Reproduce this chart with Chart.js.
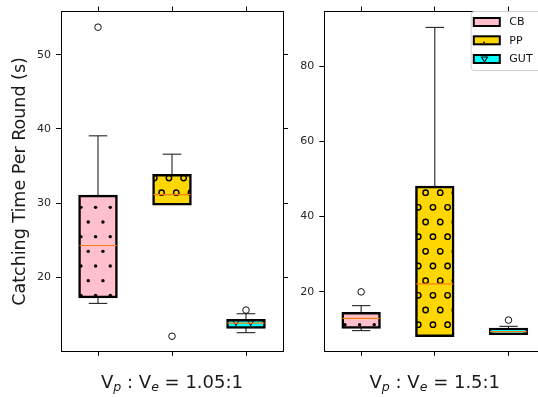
<!DOCTYPE html>
<html><head><meta charset="utf-8">
<script src="https://cdn.jsdelivr.net/npm/chart.js@4.4.1/dist/chart.umd.min.js"></script>
<style>
html,body{margin:0;padding:0;background:#fff;width:538px;height:397px;overflow:hidden;position:relative}
#c1{position:absolute;left:0;top:0}
#c2{position:absolute;left:290px;top:0}
</style></head><body>
<canvas id="c1" width="300" height="397"></canvas>
<canvas id="c2" width="280" height="397"></canvas>
<script>
// ---- data ----
const categories = ['CB', 'PP', 'GUT'];
const yTitle = 'Catching Time Per Round (s)';
// panel 1: Vp : Ve = 1.05:1
const ratio_105 = '1.05:1';
const q1_105 = [17.35, 29.85, 13.26];
const q3_105 = [30.97, 33.76, 14.24];
const median_105 = [24.3, 31.15, 13.84];
const whiskerLow_105 = [16.5, 29.85, 12.56];
const whiskerHigh_105 = [39.07, 36.6, 15.11];
const outliers_105 = [53.7, 12.08, 15.6];
const yTicks_105 = [20, 30, 40, 50];
// panel 2: Vp : Ve = 1.5:1
const ratio_15 = '1.5:1';
const q1_15 = [10.5, 8.32, 8.85];
const q3_15 = [14.3, 47.85, 10.16];
const median_15 = [12.93, 22.1, 9.45];
const whiskerLow_15 = [9.7, 8.32, 8.85];
const whiskerHigh_15 = [16.34, 90.3, 10.84];
const outliers_15 = [20.0, null, 12.5];
const yTicks_15 = [20, 40, 60, 80];

Chart.defaults.font.family = "'DejaVu Sans', sans-serif";
const FONT = "'DejaVu Sans', sans-serif";
const fills = ['#FFC0CB', '#FFD700', '#00FFFF'];

function dot(g, x, y) { g.beginPath(); g.arc(x, y, 1.7, 0, 2 * Math.PI); g.fillStyle = '#000'; g.fill(); }
function ring(g, x, y) { g.beginPath(); g.arc(x, y, 2.7, 0, 2 * Math.PI); g.strokeStyle = '#000'; g.lineWidth = 1.4; g.stroke(); }
function vee(g, x, y) { g.beginPath(); g.moveTo(x - 3, y - 2.5); g.lineTo(x + 3, y - 2.5); g.lineTo(x, y + 2.5); g.closePath(); g.strokeStyle = '#000'; g.lineWidth = 1.1; g.stroke(); }

function tile(bg, mark, ax, ay) {
  const P = 44 / 3, Q = 88 / 3, W = 44, H = 88;
  const c = document.createElement('canvas'); c.width = W; c.height = H;
  const g = c.getContext('2d'); g.fillStyle = bg; g.fillRect(0, 0, W, H);
  for (let k = -1; k <= 3; k++) for (let m = -1; m <= 3; m++) {
    mark(g, ax + k * P, ay + m * Q);
    mark(g, ax - P / 2 + k * P, ay + Q / 2 + m * Q);
  }
  return c;
}

function buildChart(id, pageLeft, st, yMin, yMax, yTicks, leftW, rightW, ratio, withYTitle, withLegend) {
  const canvas = document.getElementById(id);
  const ctx = canvas.getContext('2d');
  const marks = [[dot, 7.6, 2.0], [ring, 7.6, 2.0], [vee, 1.27, 0.33]];
  const pats = marks.map(([m, ax, ay], i) => {
    const p = ctx.createPattern(tile(fills[i], m, ax, ay), 'repeat');
    p.setTransform(new DOMMatrix([1, 0, 0, 1, -pageLeft, 0]));
    return p;
  });

  const datasets = categories.map((name, i) => ({
    type: 'bar', label: name,
    data: categories.map((_, j) => j === i ? [st.q1[i], st.q3[i]] : null),
    backgroundColor: pats[i], borderColor: '#000', borderWidth: 2.5, borderSkipped: false,
    grouped: false, barPercentage: 0.5, categoryPercentage: 1, inflateAmount: 1.25
  }));
  datasets.push({
    type: 'line', label: 'outliers', data: st.out, showLine: false,
    pointRadius: 3.3, pointBorderWidth: 1, pointBorderColor: '#111',
    pointBackgroundColor: 'rgba(0,0,0,0)', pointHoverRadius: 3.3
  });

  const boxPlugin = {
    id: 'boxParts',
    beforeDatasetsDraw(chart) {
      const { ctx, scales: { x, y } } = chart;
      const cw = x.getPixelForValue(1) - x.getPixelForValue(0);
      ctx.save(); ctx.strokeStyle = '#222'; ctx.lineWidth = 1.1;
      st.q1.forEach((_, i) => {
        const cx = x.getPixelForValue(i), half = cw * 0.125;
        [[st.q3[i], st.hi[i]], [st.q1[i], st.lo[i]]].forEach(([a, b]) => {
          ctx.beginPath(); ctx.moveTo(cx, y.getPixelForValue(a)); ctx.lineTo(cx, y.getPixelForValue(b)); ctx.stroke();
          ctx.beginPath(); ctx.moveTo(cx - half, y.getPixelForValue(b)); ctx.lineTo(cx + half, y.getPixelForValue(b)); ctx.stroke();
        });
      });
      ctx.restore();
    },
    afterDatasetsDraw(chart) {
      const { ctx, scales: { x, y } } = chart;
      const cw = x.getPixelForValue(1) - x.getPixelForValue(0);
      ctx.save(); ctx.strokeStyle = '#ff7f0e'; ctx.lineWidth = 1.2;
      st.med.forEach((m, i) => {
        const cx = x.getPixelForValue(i), py = y.getPixelForValue(m);
        ctx.beginPath(); ctx.moveTo(cx - cw * 0.25, py); ctx.lineTo(cx + cw * 0.25, py); ctx.stroke();
      });
      ctx.restore();
    },
    afterDraw(chart) {
      const { ctx, scales: { x } } = chart;
      // x label with subscripts
      const pieces = [
        ['V', `18px ${FONT}`, 0], ['p', `italic 12.6px ${FONT}`, 2.8],
        [' : V', `18px ${FONT}`, 0], ['e', `italic 12.6px ${FONT}`, 2.8],
        [' = ' + ratio, `18px ${FONT}`, 0]
      ];
      ctx.save(); ctx.fillStyle = '#1a1a1a'; ctx.textBaseline = 'alphabetic'; ctx.textAlign = 'left';
      let total = 0;
      pieces.forEach(p => { ctx.font = p[1]; total += ctx.measureText(p[0]).width; });
      let px = x.getPixelForValue(1) - total / 2;
      pieces.forEach(p => { ctx.font = p[1]; ctx.fillText(p[0], px, 388.3 + p[2]); px += ctx.measureText(p[0]).width; });
      ctx.restore();
      if (withLegend) {
        const L = 470.7 - pageLeft;
        ctx.save();
        ctx.beginPath();
        ctx.roundRect(L + 0.5, 11.5, 120, 59, 3);
        ctx.fillStyle = 'rgba(255,255,255,0.85)'; ctx.fill();
        ctx.strokeStyle = '#d0d0d0'; ctx.lineWidth = 1; ctx.stroke();
        const ys = [22, 40.3, 59];
        categories.forEach((name, i) => {
          const bx = 473.8 - pageLeft, by = ys[i] - 4, bw = 26, bh = 8;
          ctx.fillStyle = fills[i]; ctx.fillRect(bx, by, bw, bh);
          if (i === 1) { ctx.beginPath(); ctx.arc(484 - pageLeft, ys[i] + 2, 0.9, 0, 2 * Math.PI); ctx.fillStyle = '#000'; ctx.fill(); }
          if (i === 2) { vee(ctx, 484.5 - pageLeft, ys[i] + 0.5); }
          ctx.strokeStyle = '#000'; ctx.lineWidth = 2; ctx.strokeRect(bx, by, bw, bh);
          ctx.fillStyle = '#111'; ctx.font = `11px ${FONT}`; ctx.textBaseline = 'middle';
          ctx.fillText(name, 509.3 - pageLeft, ys[i] + 0.5);
        });
        ctx.restore();
      }
    }
  };

  const tickGrid = (len) => ({ drawOnChartArea: false, drawTicks: true, tickLength: len, color: '#000', lineWidth: 1, offset: false });
  const border = { display: true, color: '#000', width: 1 };

  return new Chart(ctx, {
    type: 'bar',
    data: { labels: categories, datasets },
    options: {
      responsive: false, animation: false, events: [], devicePixelRatio: 1,
      layout: { padding: 0 },
      plugins: { legend: { display: false }, tooltip: { enabled: false } },
      scales: {
        x: { type: 'category', position: 'bottom', offset: true, grid: tickGrid(4.5), border, ticks: { display: false },
             afterFit: s => { s.height = 397 - 351.3; } },
        x2: { type: 'category', position: 'top', offset: true, labels: categories, grid: tickGrid(5), border, ticks: { display: false },
              afterFit: s => { s.height = 5.3; } },
        y: { type: 'linear', position: 'left', min: yMin, max: yMax,
             afterBuildTicks: s => { s.ticks = yTicks.map(v => ({ value: v })); },
             grid: tickGrid(5), border,
             ticks: { color: '#262626', font: { size: 11, family: FONT }, padding: 5 },
             title: { display: withYTitle, text: yTitle, color: '#1a1a1a', font: { size: 17.5, family: FONT }, padding: { top: 10, bottom: 0 } },
             afterFit: s => { s.width = leftW; } },
        y2: { type: 'linear', position: 'right', min: yMin, max: yMax,
              afterBuildTicks: s => { s.ticks = yTicks.map(v => ({ value: v })); },
              grid: tickGrid(5), border, ticks: { display: false },
              afterFit: s => { s.width = rightW; } }
      }
    },
    plugins: [boxPlugin]
  });
}

buildChart('c1', 0,
  { q1: q1_105, q3: q3_105, med: median_105, lo: whiskerLow_105, hi: whiskerHigh_105, out: outliers_105 },
  10.05, 55.8, yTicks_105, 61, 300 - 283, ratio_105, true, false);
buildChart('c2', 290,
  { q1: q1_15, q3: q3_15, med: median_15, lo: whiskerLow_15, hi: whiskerHigh_15, out: outliers_15 },
  4.2, 94.5, yTicks_15, 324.3 - 290, 280 - (545.3 - 290), ratio_15, false, true);
</script>
</body></html>
